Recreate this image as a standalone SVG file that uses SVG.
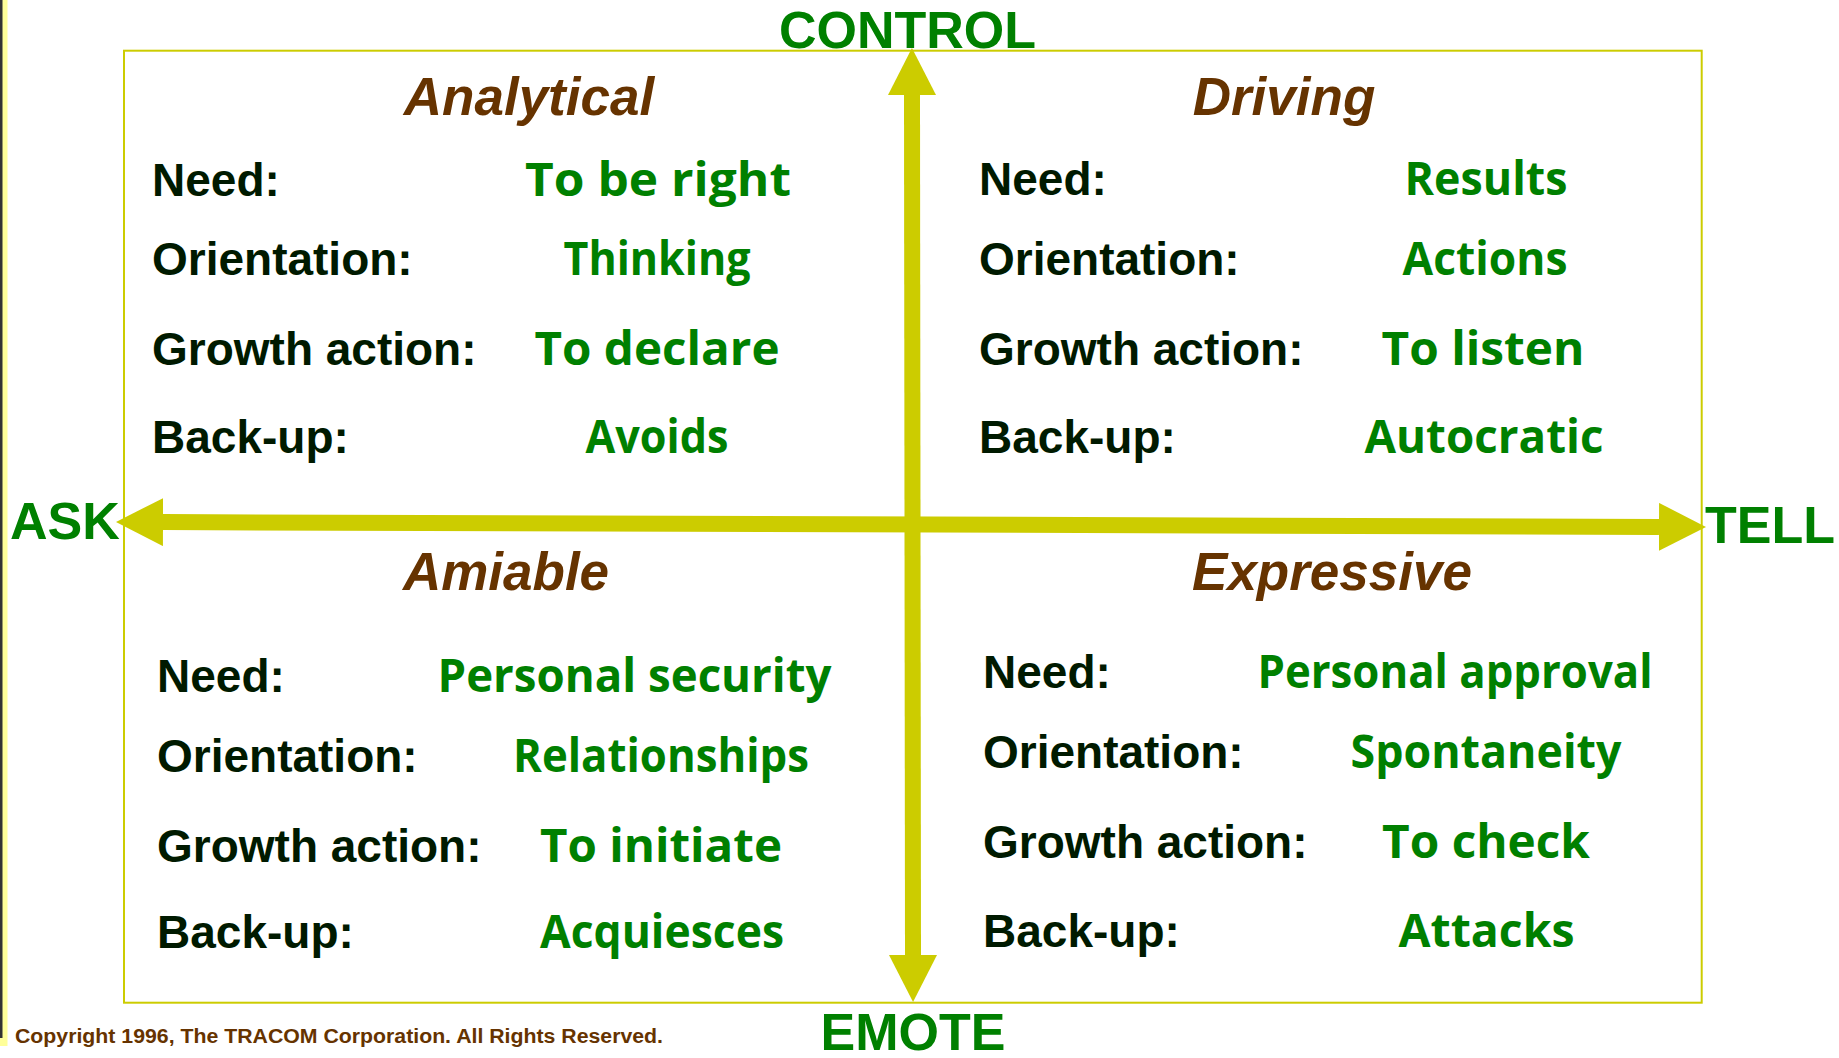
<svg xmlns="http://www.w3.org/2000/svg" width="1839" height="1058" viewBox="0 0 1839 1058">
  <style>
    .axis { font-family: "Liberation Sans", Arial, sans-serif; font-weight: bold; font-size: 52px; fill: #008000; }
    .title { font-family: "Liberation Sans", Arial, sans-serif; font-weight: bold; font-style: italic; font-size: 53px; fill: #663300; text-anchor: middle; }
    .lbl { font-family: "Liberation Sans", Arial, sans-serif; font-weight: bold; font-size: 46px; fill: #001a00; }
    .val { font-family: "Open Sans", "DejaVu Sans", sans-serif; font-weight: 700; font-size: 46px; fill: #008000; text-anchor: middle; }
    .copy { font-family: "Liberation Sans", Arial, sans-serif; font-weight: bold; font-size: 20px; fill: #663300; }
    .shaft { stroke: #cccc00; stroke-width: 16; fill: none; }
  </style>
  <defs>
    <marker id="head" markerUnits="userSpaceOnUse" markerWidth="47" markerHeight="48" viewBox="0 0 47 48" refX="0" refY="24" orient="auto-start-reverse">
      <path d="M0,0 L47,24 L0,48 Z" fill="#cccc00"/>
    </marker>
  </defs>

  <rect width="1839" height="1058" fill="#ffffff"/>

  <!-- left page edge -->
  <rect x="0" y="0" width="7.5" height="1046" fill="#ffff99"/>
  <rect x="0" y="0" width="2.5" height="1038" fill="#333333"/>

  <!-- outer frame -->
  <rect id="frame" x="124" y="50.7" width="1577.7" height="952" fill="none" stroke="#cccc00" stroke-width="2"/>

  <!-- axes -->
  <g id="connectors">
    <line class="shaft" x1="163" y1="522.1" x2="1659" y2="526.9" marker-start="url(#head)" marker-end="url(#head)"/>
    <line class="shaft" x1="912" y1="95" x2="913" y2="955" marker-start="url(#head)" marker-end="url(#head)"/>
  </g>

  <g id="axis-labels">
    <text class="axis" x="907.5" y="48" text-anchor="middle">CONTROL</text>
    <text class="axis" x="913" y="1050" text-anchor="middle">EMOTE</text>
    <text class="axis" x="10" y="539">ASK</text>
    <text class="axis" x="1705" y="543">TELL</text>
  </g>

  <g id="analytical">
    <text class="title" x="529" y="115">Analytical</text>
    <text class="lbl" x="152" y="196">Need:</text>
    <text class="lbl" x="152" y="275">Orientation:</text>
    <text class="lbl" x="152" y="365">Growth action:</text>
    <text class="lbl" x="152" y="453">Back-up:</text>
    <text class="val" x="658" y="196" textLength="266" lengthAdjust="spacingAndGlyphs">To be right</text>
    <text class="val" x="657" y="275" textLength="187" lengthAdjust="spacingAndGlyphs">Thinking</text>
    <text class="val" x="657" y="365" textLength="245" lengthAdjust="spacingAndGlyphs">To declare</text>
    <text class="val" x="657" y="453" textLength="143" lengthAdjust="spacingAndGlyphs">Avoids</text>
  </g>

  <g id="driving">
    <text class="title" x="1284" y="115">Driving</text>
    <text class="lbl" x="979" y="195">Need:</text>
    <text class="lbl" x="979" y="275">Orientation:</text>
    <text class="lbl" x="979" y="365">Growth action:</text>
    <text class="lbl" x="979" y="453">Back-up:</text>
    <text class="val" x="1486" y="195" textLength="163" lengthAdjust="spacingAndGlyphs">Results</text>
    <text class="val" x="1485" y="275" textLength="165" lengthAdjust="spacingAndGlyphs">Actions</text>
    <text class="val" x="1483" y="365" textLength="203" lengthAdjust="spacingAndGlyphs">To listen</text>
    <text class="val" x="1484" y="453" textLength="239" lengthAdjust="spacingAndGlyphs">Autocratic</text>
  </g>

  <g id="amiable">
    <text class="title" x="506" y="590">Amiable</text>
    <text class="lbl" x="157" y="692">Need:</text>
    <text class="lbl" x="157" y="772">Orientation:</text>
    <text class="lbl" x="157" y="862">Growth action:</text>
    <text class="lbl" x="157" y="948">Back-up:</text>
    <text class="val" x="634.5" y="692" textLength="394" lengthAdjust="spacingAndGlyphs">Personal security</text>
    <text class="val" x="661" y="772" textLength="296" lengthAdjust="spacingAndGlyphs">Relationships</text>
    <text class="val" x="661" y="862" textLength="242" lengthAdjust="spacingAndGlyphs">To initiate</text>
    <text class="val" x="662" y="948" textLength="244" lengthAdjust="spacingAndGlyphs">Acquiesces</text>
  </g>

  <g id="expressive">
    <text class="title" x="1332" y="590">Expressive</text>
    <text class="lbl" x="983" y="688">Need:</text>
    <text class="lbl" x="983" y="768">Orientation:</text>
    <text class="lbl" x="983" y="858">Growth action:</text>
    <text class="lbl" x="983" y="947">Back-up:</text>
    <text class="val" x="1455" y="688" textLength="395" lengthAdjust="spacingAndGlyphs">Personal approval</text>
    <text class="val" x="1486" y="768" textLength="271" lengthAdjust="spacingAndGlyphs">Spontaneity</text>
    <text class="val" x="1486" y="858" textLength="208" lengthAdjust="spacingAndGlyphs">To check</text>
    <text class="val" x="1486.5" y="947" textLength="176" lengthAdjust="spacingAndGlyphs">Attacks</text>
  </g>

  <text class="copy" x="15" y="1043" textLength="648" lengthAdjust="spacingAndGlyphs">Copyright 1996, The TRACOM Corporation. All Rights Reserved.</text>
</svg>
